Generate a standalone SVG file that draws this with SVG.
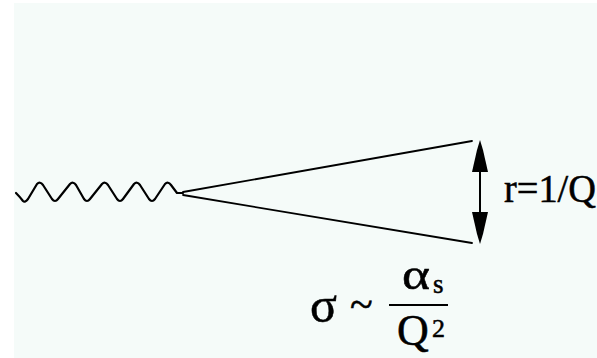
<svg xmlns="http://www.w3.org/2000/svg" width="597" height="358" viewBox="0 0 597 358">
<style>
.ln{fill:none;stroke:#000;stroke-width:2.2;stroke-linejoin:round;stroke-linecap:round}
.t{font-family:"Liberation Serif","Times New Roman",serif;fill:#000;stroke:#000;stroke-width:0.5}
</style>
<rect width="597" height="358" fill="#ffffff"/>
<rect x="14" y="3" width="583" height="355" fill="#f5fbf9"/>
<g id="connectors">
<path class="ln" d="M16,193 Q20,197 23,201 Q25,203 28,199 L37,184 Q40,181 43,185 L52,199 Q55,203 58,199 L70,184 Q73,181 76,185 L84,199 Q87,203 90,199 L102,184 Q105,181 108,185 L117,199 Q120,203 123,199 L134,184 Q137,181 140,185 L149,199 Q152,203 155,199 L165,184 Q168,181 171,185 L177,193 L183,193"/>
<line class="ln" x1="183" y1="192" x2="472" y2="141" style="stroke-width:1.8"/>
<line class="ln" x1="183" y1="195" x2="472" y2="243" style="stroke-width:1.8"/>
</g>
<g id="arrow">
<line x1="480" y1="160" x2="480" y2="224" stroke="#000" stroke-width="2"/>
<path d="M480,140 L483,150 L488,172 L472,172 L477,150 Z" fill="#000"/>
<path d="M480,244 L483,234 L488,212 L472,212 L477,234 Z" fill="#000"/>
</g>
<g id="label-r">
<text class="t" x="504" y="202" font-size="39" textLength="92" lengthAdjust="spacingAndGlyphs">r=1/Q</text>
</g>
<g id="formula">
<text class="t" x="310" y="322" font-size="50">σ</text>
<text class="t" x="350" y="318" font-size="42">~</text>
<line x1="389" y1="305" x2="448" y2="305" stroke="#000" stroke-width="2.2"/>
<text class="t" x="402" y="289" font-size="44" textLength="28" lengthAdjust="spacingAndGlyphs">α</text>
<text class="t" x="433" y="293" font-size="27">s</text>
<text class="t" x="397" y="345" font-size="44">Q</text>
<text class="t" x="432" y="337" font-size="26">2</text>
</g>
</svg>
